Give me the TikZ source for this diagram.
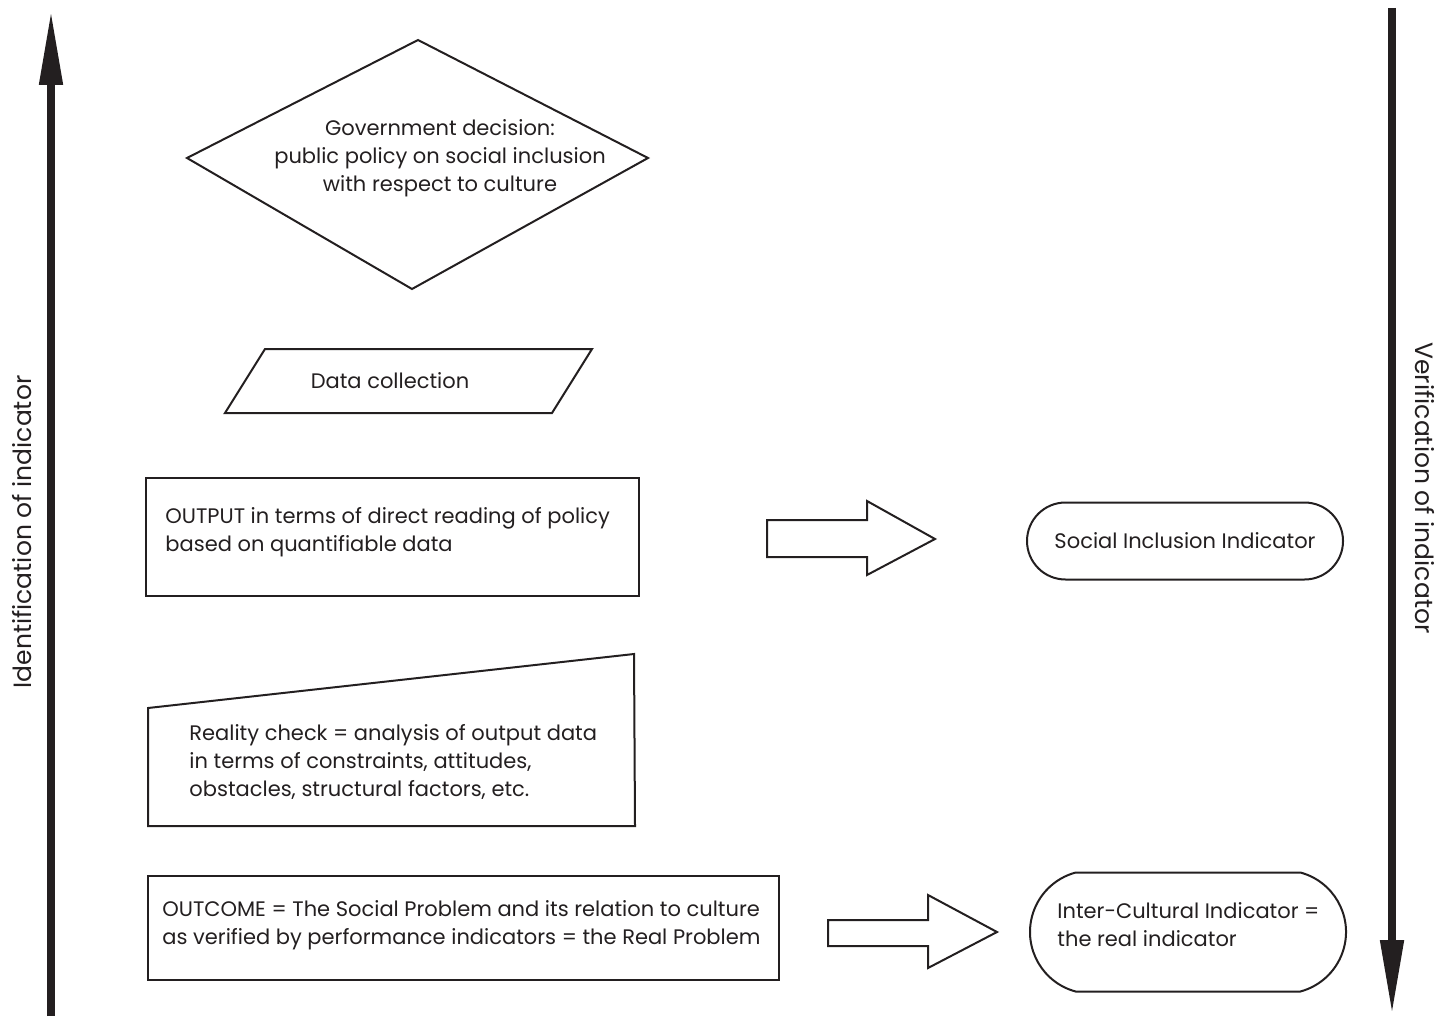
\documentclass[tikz,border=0pt]{standalone}
\usepackage{fontspec}
\setmainfont{Poppins}
\usetikzlibrary{arrows.meta,shapes.misc,positioning}
\definecolor{ink}{HTML}{231F20}
\tikzset{
  txt/.style={inner sep=0pt,text=ink,align=left,font=\fontsize{10.5}{14}\selectfont},
  box/.style={draw=ink,line width=1pt},
  pill/.style={draw=ink,line width=1pt,rounded rectangle,inner sep=0pt},
  bigarrow/.style={draw=ink,line width=4pt,-{Triangle[length=37.5pt,width=11pt]}},
  sidelabel/.style={inner sep=0pt,text=ink,font=\fontsize{12.5}{14}\selectfont}
}
\begin{document}
\begin{tikzpicture}[x=0.5pt,y=-0.5pt]
    \useasboundingbox (0,0) rectangle (1454,1016);
    % side arrows
    \coordinate (lbot) at (51,1016);
    \coordinate (ltop) at (51,10);
    \coordinate (rtop) at (1392,8);
    \coordinate (rbot) at (1392,1015);
    \draw[bigarrow] (lbot) -- (ltop);
    \draw[bigarrow] (rtop) -- (rbot);
    \node[sidelabel,rotate=90] (ident) at (22,532) {Identification of indicator};
    \node[sidelabel,rotate=-90] (verif) at (1425,488) {Verification of indicator};

    % decision
    \draw[box] (418,40) coordinate (d0) -- (648,158) coordinate (d1)
      -- (412,289) coordinate (d2) -- (187,158) coordinate (d3) -- cycle;
    \node[txt,align=center] (decision) at (440,158) {Government decision:\\public policy on social inclusion\\with respect to culture};

    % data
    \draw[box] (265,349) coordinate (p0) -- (592,349) coordinate (p1)
      -- (552,413) coordinate (p2) -- (225,413) coordinate (p3) -- cycle;
    \node[txt] (data) at (390,381) {Data collection};

    % output
    \draw[box] (146,478) rectangle (639,596);
    \node[txt,anchor=west] (output) at (165,532) {OUTPUT in terms of direct reading of policy\\based on quantifiable data};

    % reality check
    \draw[box] (148,708) coordinate (m0) -- (634,654) coordinate (m1)
      -- (635,826) coordinate (m2) -- (148,826) coordinate (m3) -- cycle;
    \node[txt,anchor=west] (reality) at (189,762) {Reality check = analysis of output data\\in terms of constraints, attitudes,\\obstacles, structural factors, etc.};

    % outcome
    \draw[box] (148,876) rectangle (779,980);
    \node[txt,anchor=west] (outcome) at (162,925) {OUTCOME = The Social Problem and its relation to culture\\as verified by performance indicators = the Real Problem};

    % block arrows
    \draw[box] (767,520) coordinate (a0) -- (867,520) -- (867,501) -- (935,539) coordinate (a1)
      -- (867,575) -- (867,557) -- (767,557) -- cycle;
    \draw[box] (828,920) coordinate (b0) -- (928,920) -- (928,895) -- (997,932) coordinate (b1)
      -- (928,968) -- (928,946) -- (828,946) -- cycle;

    % indicators
    \node[pill,minimum width=158pt,minimum height=38.5pt] (social) at (1185,541) {};
    \node[txt] at (social) {Social Inclusion Indicator};
    \node[pill,minimum width=158pt,minimum height=59.5pt,rounded rectangle arc length=150] (inter) at (1188,932) {};
    \node[txt,anchor=west] at (1057,925) {Inter-Cultural Indicator =\\the real indicator};
\end{tikzpicture}
\end{document}
